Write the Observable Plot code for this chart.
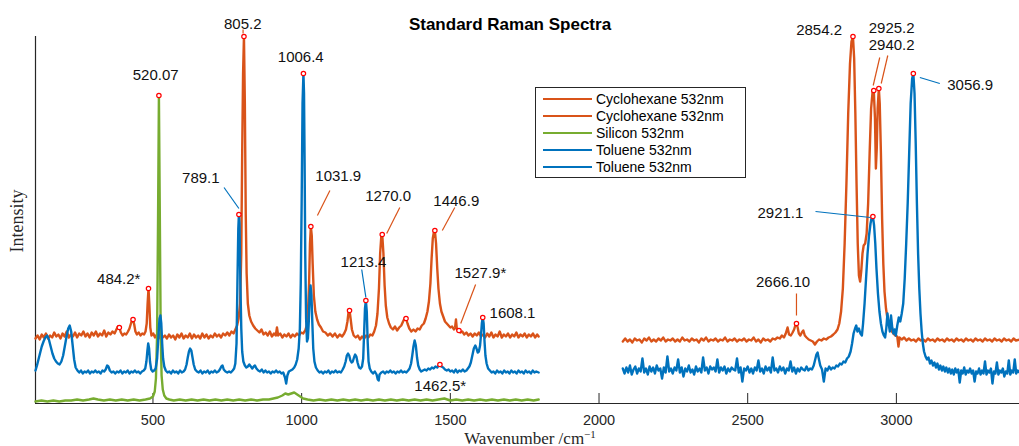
<!DOCTYPE html>
<html><head><meta charset="utf-8">
<script src="https://cdn.jsdelivr.net/npm/d3@7"></script>
<script src="https://cdn.jsdelivr.net/npm/@observablehq/plot@0.6"></script>
<style>
html,body{margin:0;padding:0;background:#fff;}
#chart{width:1019px;height:446px;}
</style></head><body><div id="chart"></div>
<script>
// ---- data (wavenumber /cm^-1, intensity a.u.) ----
const xDomain = [105, 3414];
const yDomain = [0, 367];
const xTicks = [500, 1000, 1500, 2000, 2500, 3000];

const seriesNames = ["Cyclohexane 532nm", "Cyclohexane 532nm", "Silicon 532nm", "Toluene 532nm", "Toluene 532nm"];
const seriesColors = ["#D95319", "#D95319", "#77AC30", "#0072BD", "#0072BD"];

const cyclohexaneA = [[105,65],[112,68],[119,64],[126,69],[133,66],[140,70],[147,65],[154,68],[161,66],[168,71],[175,67],[182,69],[189,65],[196,70],[203,67],[210,72],[217,66],[224,69],[231,67],[238,71],[245,66],[252,70],[259,68],[266,72],[273,67],[280,70],[287,66],[294,71],[301,68],[308,72],[315,67],[322,70],[329,68],[336,73],[343,67],[350,71],[357,69],[364,72],[371,70],[377,74],[382,77],[387,76],[392,71],[398,68],[404,70],[410,69],[416,72],[421,75],[426,80],[430,84],[433,84],[437,79],[441,72],[446,69],[452,71],[458,68],[464,70],[470,69],[475,72],[479,80],[482,100],[485,115],[488,98],[491,76],[495,68],[501,70],[507,66],[513,69],[519,65],[526,70],[533,66],[540,68],[547,65],[554,69],[561,66],[568,68],[575,64],[582,69],[589,66],[596,70],[603,65],[610,68],[617,66],[624,70],[631,65],[638,69],[645,66],[652,68],[659,65],[666,70],[673,66],[680,69],[687,65],[694,68],[701,66],[708,70],[715,67],[722,69],[729,66],[736,70],[743,68],[750,71],[757,68],[764,72],[771,70],[777,74],[783,78],[788,85],[793,100],[797,150],[800,250],[803,330],[806,367],[809,300],[812,190],[815,130],[819,100],[824,88],[830,82],[837,78],[844,75],[851,73],[858,71],[865,74],[872,69],[879,71],[886,68],[893,72],[900,67],[907,70],[913,68],[917,76],[921,68],[928,70],[935,66],[942,69],[949,67],[956,70],[963,66],[970,69],[977,67],[984,70],[991,68],[998,71],[1005,70],[1012,73],[1017,78],[1021,90],[1025,120],[1028,160],[1031,177],[1034,168],[1037,140],[1041,108],[1046,92],[1052,84],[1058,79],[1065,76],[1072,72],[1080,71],[1088,68],[1096,70],[1104,67],[1112,70],[1120,66],[1128,69],[1136,67],[1143,70],[1149,74],[1154,82],[1158,92],[1161,93],[1165,84],[1169,74],[1175,68],[1182,66],[1189,68],[1196,64],[1203,67],[1210,65],[1217,68],[1224,66],[1231,69],[1238,68],[1244,72],[1250,78],[1255,90],[1260,115],[1264,150],[1268,168],[1271,169],[1275,150],[1279,118],[1283,98],[1288,86],[1294,80],[1300,76],[1307,74],[1314,77],[1321,73],[1328,76],[1335,78],[1341,82],[1346,85],[1351,85],[1356,80],[1362,75],[1369,72],[1376,74],[1383,72],[1390,75],[1397,74],[1404,78],[1411,80],[1417,85],[1423,92],[1428,102],[1433,120],[1437,145],[1441,165],[1445,172],[1448,173],[1452,160],[1456,135],[1460,115],[1465,100],[1470,92],[1476,87],[1482,82],[1488,80],[1494,78],[1500,76],[1506,77],[1512,74],[1516,76],[1519,84],[1522,74],[1526,73],[1529,73],[1534,71],[1540,72],[1547,69],[1554,71],[1561,68],[1568,70],[1575,67],[1582,70],[1589,68],[1596,71],[1603,67],[1610,69],[1617,66],[1624,70],[1631,67],[1638,71],[1645,66],[1652,69],[1659,67],[1666,72],[1673,66],[1680,69],[1687,67],[1694,70],[1701,66],[1708,69],[1715,67],[1722,71],[1729,66],[1736,69],[1743,67],[1750,70],[1757,66],[1764,69],[1771,67],[1778,70],[1785,66],[1792,69],[1797,67]];

const cyclohexaneB = [[2080,62],[2088,65],[2096,62],[2104,64],[2112,61],[2120,65],[2128,63],[2136,64],[2144,61],[2152,65],[2160,63],[2168,66],[2176,62],[2184,64],[2192,62],[2200,65],[2208,63],[2216,66],[2224,62],[2232,64],[2240,63],[2248,65],[2256,62],[2264,64],[2272,62],[2280,66],[2288,63],[2296,64],[2304,62],[2312,65],[2320,63],[2328,64],[2336,61],[2344,65],[2352,63],[2360,66],[2368,62],[2376,64],[2384,63],[2392,65],[2400,62],[2408,64],[2416,63],[2424,66],[2432,62],[2440,64],[2448,63],[2456,65],[2464,62],[2472,64],[2480,63],[2488,65],[2496,62],[2504,64],[2512,63],[2520,66],[2528,62],[2536,64],[2544,61],[2552,65],[2560,63],[2568,64],[2576,62],[2584,65],[2592,64],[2600,66],[2608,65],[2615,68],[2622,66],[2628,70],[2634,76],[2639,69],[2645,68],[2651,71],[2656,74],[2660,78],[2664,80],[2668,76],[2672,70],[2677,68],[2682,71],[2687,73],[2692,68],[2698,66],[2705,64],[2712,63],[2719,62],[2726,59],[2733,62],[2740,64],[2748,63],[2756,65],[2764,64],[2772,66],[2780,67],[2788,69],[2795,71],[2802,74],[2808,80],[2814,92],[2820,115],[2826,160],[2832,220],[2838,290],[2844,340],[2849,362],[2854,367],[2858,345],[2862,290],[2866,220],[2870,160],[2874,128],[2878,122],[2882,133],[2886,150],[2890,158],[2895,160],[2900,170],[2905,200],[2910,250],[2915,295],[2920,312],[2924,313],[2928,285],[2931,235],[2934,255],[2937,295],[2941,315],[2944,300],[2948,250],[2952,185],[2956,140],[2960,112],[2965,95],[2970,85],[2975,78],[2980,82],[2985,72],[2990,70],[2996,68],[3003,67],[3007,57],[3011,66],[3018,64],[3026,66],[3034,63],[3042,65],[3050,63],[3058,64],[3066,62],[3074,65],[3082,63],[3090,64],[3098,62],[3106,65],[3114,63],[3122,64],[3130,62],[3138,65],[3146,63],[3154,64],[3162,62],[3170,65],[3178,63],[3186,64],[3194,62],[3202,65],[3210,63],[3218,64],[3226,62],[3234,65],[3242,63],[3250,64],[3258,62],[3266,65],[3274,63],[3282,64],[3290,62],[3298,65],[3306,63],[3314,64],[3322,62],[3330,65],[3338,63],[3346,64],[3354,62],[3362,65],[3370,63],[3378,64],[3386,62],[3394,65],[3402,63],[3414,64]];

const silicon = [[105,2],[125,3],[145,2],[165,3],[185,2],[205,3],[225,3],[245,4],[265,3],[285,4],[300,5],[315,4],[335,3],[355,4],[375,3],[395,4],[415,3],[435,4],[455,3],[475,4],[490,5],[500,7],[506,12],[510,25],[514,70],[517,180],[520,308],[523,190],[526,70],[529,28],[533,14],[538,8],[545,5],[555,4],[570,3],[590,4],[610,3],[630,4],[650,3],[670,4],[690,3],[710,4],[730,3],[750,4],[770,3],[790,4],[810,3],[830,4],[850,3],[870,4],[890,4],[905,5],[920,6],[935,8],[945,10],[955,9],[965,10],[975,11],[985,9],[995,7],[1005,5],[1020,4],[1040,3],[1060,4],[1080,3],[1100,4],[1120,3],[1140,4],[1160,3],[1180,4],[1200,3],[1220,4],[1240,3],[1260,4],[1280,3],[1300,4],[1320,3],[1340,4],[1360,3],[1380,4],[1400,3],[1420,4],[1440,3],[1460,4],[1480,5],[1500,3],[1520,4],[1540,3],[1560,4],[1580,3],[1600,4],[1620,3],[1640,4],[1660,3],[1680,4],[1700,3],[1720,4],[1740,3],[1760,4],[1780,3],[1797,4]];

const tolueneA = [[105,33],[110,38],[115,44],[120,50],[126,57],[132,62],[138,66],[144,68],[150,64],[156,57],[162,50],[168,45],[174,42],[180,40],[186,39],[192,42],[198,48],[204,58],[210,68],[215,75],[220,78],[225,72],[230,58],[235,44],[240,36],[246,33],[252,31],[258,33],[264,30],[270,32],[276,31],[282,33],[288,30],[294,32],[300,31],[306,33],[312,31],[318,32],[324,30],[330,33],[336,32],[341,34],[346,38],[350,37],[355,33],[361,31],[367,32],[373,30],[379,32],[385,31],[391,33],[397,30],[403,32],[409,31],[415,33],[421,30],[427,32],[433,31],[439,33],[445,31],[451,32],[457,30],[463,32],[469,33],[474,35],[478,42],[481,52],[484,60],[487,55],[490,42],[494,34],[499,32],[504,33],[509,35],[514,45],[518,65],[522,85],[525,88],[528,80],[531,60],[534,45],[538,37],[543,33],[549,31],[555,32],[561,30],[567,33],[573,31],[579,32],[585,30],[591,33],[597,31],[603,32],[608,34],[613,39],[617,46],[621,52],[625,55],[629,53],[633,46],[637,39],[642,34],[648,32],[654,31],[660,33],[666,30],[672,32],[678,31],[684,33],[690,30],[696,32],[702,31],[708,33],[714,31],[720,32],[725,34],[730,37],[734,38],[738,34],[744,32],[750,31],[756,32],[762,31],[768,33],[773,35],[777,40],[781,60],[784,120],[787,175],[789,189],[791,180],[794,120],[797,75],[800,52],[804,42],[809,38],[814,36],[819,37],[824,39],[829,37],[834,35],[839,37],[843,38],[848,35],[854,33],[860,32],[866,34],[872,31],[878,33],[884,31],[890,32],[896,30],[902,32],[908,31],[914,33],[920,31],[926,32],[932,30],[938,31],[944,26],[948,20],[952,28],[957,32],[963,33],[969,34],[975,36],[980,39],[985,44],[990,55],[994,75],[997,120],[1000,200],[1003,300],[1006,330],[1008,310],[1010,240],[1012,150],[1015,85],[1018,62],[1021,65],[1024,82],[1027,108],[1030,118],[1033,108],[1036,80],[1039,55],[1043,42],[1048,36],[1054,33],[1060,31],[1066,32],[1072,30],[1078,32],[1084,31],[1090,33],[1096,30],[1102,32],[1108,31],[1114,33],[1120,31],[1126,32],[1132,31],[1138,34],[1143,37],[1148,42],[1152,48],[1156,50],[1160,48],[1164,43],[1168,41],[1172,42],[1176,46],[1180,49],[1184,47],[1188,41],[1193,36],[1198,35],[1203,37],[1207,45],[1210,70],[1213,95],[1216,103],[1219,92],[1222,62],[1225,42],[1229,35],[1234,32],[1240,30],[1246,32],[1252,29],[1256,24],[1259,23],[1262,29],[1268,31],[1274,32],[1280,30],[1286,32],[1292,31],[1298,33],[1304,31],[1310,32],[1316,30],[1322,32],[1328,31],[1334,33],[1340,31],[1346,32],[1352,31],[1358,33],[1363,35],[1368,40],[1372,48],[1376,57],[1380,63],[1384,58],[1388,46],[1392,38],[1397,34],[1402,32],[1408,33],[1414,34],[1420,33],[1426,35],[1432,34],[1438,36],[1444,35],[1450,37],[1456,36],[1461,38],[1465,39],[1470,37],[1476,36],[1482,34],[1488,33],[1494,34],[1500,32],[1506,33],[1512,31],[1518,34],[1524,31],[1530,33],[1536,32],[1542,34],[1548,32],[1554,33],[1559,35],[1564,37],[1569,41],[1574,48],[1579,55],[1584,58],[1588,55],[1592,51],[1596,52],[1600,58],[1603,68],[1606,80],[1609,86],[1612,80],[1615,62],[1618,48],[1622,40],[1627,35],[1633,33],[1639,31],[1645,32],[1651,30],[1657,33],[1663,31],[1669,32],[1675,30],[1681,33],[1687,31],[1693,32],[1699,30],[1705,33],[1711,31],[1717,32],[1723,30],[1729,33],[1735,31],[1741,32],[1747,30],[1753,33],[1759,31],[1765,32],[1771,30],[1777,33],[1783,31],[1789,32],[1797,31]];

const tolueneB = [[2080,35],[2086,30],[2092,36],[2098,31],[2104,38],[2110,29],[2116,34],[2122,37],[2128,30],[2134,35],[2140,32],[2146,45],[2152,31],[2158,35],[2164,29],[2170,37],[2176,32],[2182,36],[2188,30],[2194,38],[2200,33],[2206,35],[2212,25],[2218,36],[2224,31],[2230,47],[2236,32],[2242,35],[2248,30],[2254,36],[2260,33],[2266,44],[2272,31],[2278,36],[2284,27],[2290,35],[2296,32],[2302,38],[2308,31],[2314,34],[2320,29],[2326,37],[2332,32],[2338,35],[2344,31],[2350,46],[2356,33],[2362,36],[2368,30],[2374,37],[2380,34],[2386,36],[2392,32],[2398,44],[2404,31],[2410,36],[2416,33],[2422,37],[2428,30],[2434,35],[2440,32],[2446,36],[2452,34],[2458,33],[2464,45],[2470,31],[2476,36],[2482,22],[2488,35],[2494,33],[2500,37],[2506,31],[2512,35],[2518,30],[2524,36],[2530,33],[2536,43],[2542,32],[2548,35],[2554,30],[2560,37],[2566,33],[2572,36],[2578,31],[2584,46],[2590,33],[2596,35],[2602,31],[2608,37],[2614,33],[2620,36],[2626,30],[2632,35],[2638,33],[2644,42],[2650,32],[2656,36],[2662,30],[2668,35],[2674,32],[2680,36],[2686,34],[2692,33],[2698,37],[2704,33],[2710,35],[2716,34],[2722,38],[2727,44],[2731,49],[2735,51],[2739,45],[2744,38],[2750,34],[2756,22],[2762,35],[2768,33],[2774,37],[2780,34],[2786,36],[2792,35],[2798,38],[2804,37],[2810,40],[2816,39],[2822,42],[2828,41],[2834,45],[2840,47],[2846,52],[2851,60],[2856,70],[2861,75],[2865,78],[2869,72],[2874,75],[2879,70],[2884,68],[2888,80],[2893,100],[2898,125],[2903,150],[2908,168],[2913,180],[2917,186],[2921,187],[2925,178],[2929,160],[2933,135],[2938,110],[2943,92],[2948,80],[2953,72],[2958,68],[2962,66],[2966,75],[2970,90],[2974,80],[2978,72],[2982,88],[2986,76],[2990,70],[2994,74],[2998,68],[3003,78],[3008,86],[3013,82],[3018,90],[3023,100],[3028,125],[3033,160],[3038,200],[3043,250],[3048,300],[3053,325],[3057,330],[3061,310],[3065,260],[3069,200],[3073,150],[3077,115],[3081,90],[3085,72],[3089,60],[3093,52],[3098,47],[3103,44],[3108,46],[3113,40],[3118,43],[3123,38],[3128,41],[3133,36],[3138,40],[3143,34],[3148,38],[3153,33],[3158,37],[3163,32],[3168,36],[3173,31],[3178,35],[3183,30],[3188,34],[3193,29],[3198,35],[3203,31],[3208,34],[3213,21],[3218,33],[3223,30],[3228,36],[3233,29],[3238,33],[3243,31],[3248,35],[3253,30],[3258,33],[3263,22],[3268,32],[3273,30],[3278,35],[3283,29],[3288,33],[3293,30],[3298,42],[3303,29],[3308,33],[3313,31],[3318,35],[3323,20],[3328,32],[3333,30],[3338,41],[3343,29],[3348,33],[3353,31],[3358,35],[3363,27],[3368,32],[3373,30],[3378,43],[3383,29],[3388,33],[3393,31],[3398,44],[3403,30],[3408,33],[3414,31]];

// peak markers [wavenumber, intensity]
const peakMarkers = [[387,76],[433,84],[485,115],[806,367],[1031,177],[1161,93],[1271,169],[1351,85],[1448,173],[1529,73],[2664,80],[2854,367],[2924,313],[2941,315],[789,189],[1006,330],[1216,103],[1465,39],[1609,86],[2921,187],[3057,330],[520,308]];

// peak labels [text, wavenumber, intensity]
const peakLabels = [["805.2",802,379],["520.07",509,328],["1006.4",997,346],["789.1",661,225],["1031.9",1123,227],["1270.0",1291,207],["1446.9",1520,202],["1213.4",1208,141],["1527.9*",1601,130],["1608.1",1709,90],["1462.5*",1466,17],["484.2*",385,124],["2666.10",2619,121],["2854.2",2740,373],["2925.2",2984,375],["2940.2",2984,358],["3056.9",3248,318],["2921.1",2610,190]];

// leader lines [wn1, I1, wn2, I2, series index]
const leaders = [[803,374,803,370,0],[739,216,789,195,3],[1095,213,1053,188,0],[1330,196,1286,170,0],[1515,196,1473,173,0],[1585,119,1535,80,0],[1202,134,1216,106,3],[2664,110,2664,88,1],[2944,346,2922,318,1],[2971,348,2949,320,1],[3079,326,3146,320,4],[2728,192,2913,186,4]];

const spectra = [cyclohexaneA, cyclohexaneB, silicon, tolueneA, tolueneB];

const axisColor = "#262626";
const sans = "'Liberation Sans', Arial, Helvetica, sans-serif";
const serif = "'Liberation Serif', 'Times New Roman', serif";

const chart = Plot.plot({
  width: 1019, height: 446,
  marginLeft: 35, marginRight: 0, marginTop: 36, marginBottom: 43,
  style: {fontFamily: sans, background: "#fff", overflow: "visible"},
  x: {domain: xDomain, label: null},
  y: {domain: yDomain, axis: null},
  marks: [
    Plot.axisX({ticks: xTicks, tickFormat: d => String(d), tickSize: 0, tickPadding: 11, fontSize: 14.5, color: axisColor, label: null}),
    Plot.ruleX(xTicks, {y1: 0, y2: 10, stroke: axisColor, strokeWidth: 1}),
    Plot.ruleY([0], {stroke: axisColor, strokeWidth: 1.2}),
    Plot.ruleX([xDomain[0]], {stroke: axisColor, strokeWidth: 1.2}),
    ...spectra.map((s, i) => Plot.line(s, {x: d => d[0], y: d => d[1], stroke: seriesColors[i], strokeWidth: 2.4, strokeLinejoin: "round"})),
    Plot.link(leaders, {x1: d => d[0], y1: d => d[1], x2: d => d[2], y2: d => d[3], stroke: d => seriesColors[d[4]], strokeWidth: 1.2}),
    Plot.dot(peakMarkers, {x: d => d[0], y: d => d[1], r: 2.2, stroke: "#ff0000", fill: "#fff", strokeWidth: 1.2}),
    Plot.text(peakLabels, {x: d => d[1], y: d => d[2], text: d => d[0], fontSize: 15, fill: "#111", textAnchor: "middle", lineAnchor: "middle"})
  ]
});

document.getElementById("chart").appendChild(chart);

const svg = d3.select(chart);
// title
svg.append("text").attr("x", 510).attr("y", 30).attr("text-anchor", "middle")
  .attr("font-family", sans).attr("font-weight", "bold").attr("font-size", 17).attr("fill", "#000")
  .text("Standard Raman Spectra");
// axis labels
svg.append("text").attr("transform", "translate(23,221) rotate(-90)").attr("text-anchor", "middle")
  .attr("font-family", serif).attr("font-size", 18).attr("fill", axisColor).text("Intensity");
const xl = svg.append("text").attr("x", 530).attr("y", 444).attr("text-anchor", "middle")
  .attr("font-family", serif).attr("font-size", 17).attr("fill", axisColor);
xl.append("tspan").text("Wavenumber /cm");
xl.append("tspan").attr("dy", -6).attr("font-size", 11).text("\u22121");
// legend
const lg = svg.append("g").attr("text-anchor", "start");
lg.append("rect").attr("x", 535.5).attr("y", 87.5).attr("width", 210).attr("height", 90)
  .attr("fill", "#fff").attr("stroke", axisColor).attr("stroke-width", 1);
seriesNames.forEach((name, i) => {
  const yy = 99 + i * 17;
  lg.append("line").attr("x1", 543).attr("x2", 592).attr("y1", yy).attr("y2", yy)
    .attr("stroke", seriesColors[i]).attr("stroke-width", 2);
  lg.append("text").attr("x", 596).attr("y", yy).attr("dy", "0.35em").attr("text-anchor", "start")
    .attr("font-family", sans).attr("font-size", 14).attr("fill", "#000").text(name);
});
</script></body></html>
